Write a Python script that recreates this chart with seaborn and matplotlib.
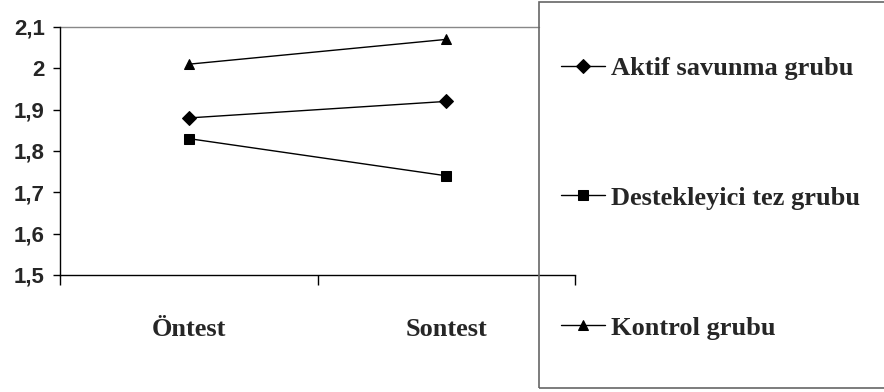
import matplotlib
matplotlib.use("Agg")
import matplotlib.pyplot as plt
from matplotlib.patches import Rectangle
import seaborn as sns
import pandas as pd

phases = ["Öntest", "Sontest"]
groups = ["Aktif savunma grubu", "Destekleyici tez grubu", "Kontrol grubu"]
aktif = [1.88, 1.92]
destek = [1.83, 1.74]
kontrol = [2.01, 2.07]
yticks = [1.5, 1.6, 1.7, 1.8, 1.9, 2.0, 2.1]
ytick_labels = ["1,5", "1,6", "1,7", "1,8", "1,9", "2", "2,1"]

rows = []
for g, vals in zip(groups, [aktif, destek, kontrol]):
    for p, v in zip(phases, vals):
        rows.append({"phase": p, "score": v, "group": g})
df = pd.DataFrame(rows)

sns.set_style("white")
fig = plt.figure(figsize=(8.84, 3.92), dpi=100)
ax = fig.add_axes([60 / 884, 1 - 275 / 392, 515 / 884, 248 / 392])

sns.lineplot(data=df, x="phase", y="score", hue="group", style="group",
             hue_order=groups, style_order=groups,
             palette=["black"] * 3, markers=["D", "s", "^"], dashes=False,
             markersize=7, linewidth=1, markeredgecolor="black", sort=False, ax=ax)

ax.set_xlim(-0.5, 1.5)
ax.set_ylim(1.5, 2.1)
ax.axhline(2.1, xmin=0, xmax=(539 - 60) / 515, color="#888888", lw=1, clip_on=False)

ax.set_yticks(yticks)
ax.set_yticklabels(ytick_labels, fontfamily="Liberation Sans", fontweight="bold", fontsize=16)
ax.set_xticks([0, 1])
ax.set_xticklabels(phases, fontfamily="Liberation Serif", fontweight="bold", fontsize=19)
ax.set_xticks([-0.5, 0.5, 1.5], minor=True)
ax.tick_params(axis="x", which="major", length=0, pad=31)
ax.tick_params(axis="x", which="minor", length=7, width=1, color="black", direction="out", bottom=True)
ax.tick_params(axis="y", length=5, width=1, color="black", direction="out", left=True, pad=6)
ax.set_xlabel("")
ax.set_ylabel("")
for s in ["top", "right"]:
    ax.spines[s].set_visible(False)
for s in ["left", "bottom"]:
    ax.spines[s].set_color("black")
    ax.spines[s].set_linewidth(1)

handles, labels = ax.get_legend_handles_labels()
ax.get_legend().remove()

fig.patches.append(Rectangle((539 / 884, 4 / 392), 0.5, 386 / 392, transform=fig.transFigure,
                             facecolor="none", edgecolor="#666666", lw=1.2))
fig.legend(handles, labels, loc="center left", bbox_to_anchor=(561 / 884, 194 / 392),
           frameon=False, borderpad=0, borderaxespad=0, handlelength=1.65,
           handletextpad=0.25, labelspacing=4.03,
           prop={"family": "Liberation Serif", "weight": "bold", "size": 19})

fig.savefig("out.png", dpi=100)
